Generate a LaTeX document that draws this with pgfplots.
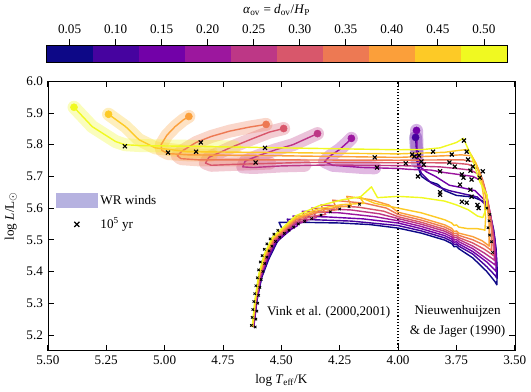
\documentclass[border=0pt]{standalone}
\usepackage{fontspec}
\setmainfont{Liberation Serif}
\usepackage{pgfplots}
\pgfplotsset{compat=1.18}

% plasma, 10 steps
\definecolor{c0}{RGB}{13,8,135}
\definecolor{c1}{RGB}{70,3,159}
\definecolor{c2}{RGB}{114,1,168}
\definecolor{c3}{RGB}{156,23,158}
\definecolor{c4}{RGB}{189,55,134}
\definecolor{c5}{RGB}{216,87,107}
\definecolor{c6}{RGB}{237,121,83}
\definecolor{c7}{RGB}{251,159,58}
\definecolor{c8}{RGB}{253,202,38}
\definecolor{c9}{RGB}{240,249,33}
\definecolor{wrcol}{RGB}{182,178,224}

\pgfplotsset{
  trk/.style={#1, line width=1pt, line join=round, mark=none, forget plot},
  wr/.style={#1, opacity=0.3, line width=9.2pt, line cap=round, line join=round, mark=none, forget plot},
  enddot/.style={#1, only marks, mark=*, mark size=2.5pt, forget plot},
  xm/.style={black, only marks, mark=x, mark size=2pt, line width=0.8pt, forget plot},
  xms/.style={black, only marks, mark=x, mark size=1.2pt, line width=0.6pt, forget plot},
}

\begin{document}
\begin{tikzpicture}[font=\fontsize{9.3}{11.2}\selectfont]
\begin{axis}[
  scale only axis, width=330.6pt, height=190.8pt,
  x dir=reverse,
  xmin=3.5, xmax=5.5, ymin=5.15, ymax=6.0,
  xtick={3.5,3.75,4,4.25,4.5,4.75,5,5.25,5.5},
  ytick={5.2,5.3,5.4,5.5,5.6,5.7,5.8,5.9,6.0},
  /pgf/number format/assume math mode=true,
  xticklabel style={/pgf/number format/.cd, fixed, fixed zerofill, precision=2},
  yticklabel style={/pgf/number format/.cd, fixed, fixed zerofill, precision=1},
  xlabel={log \textit{T}\textsubscript{eff}/K},
  ylabel={log \textit{L}/L$_\odot$},
  tick style={black, line width=0.5pt},
  legend style={at={(0.008,0.6)}, anchor=north west, draw=none, fill=none,
    row sep=4pt, cells={anchor=west}},
]
\addlegendimage{legend image code/.code={\fill[wrcol] (0pt,-5pt) rectangle (29pt,5pt);}}
\addlegendentry{WR winds}
\addlegendimage{legend image code/.code={\draw[black,line width=0.9pt] (12.7pt,-1.8pt)--(16.3pt,1.8pt) (12.7pt,1.8pt)--(16.3pt,-1.8pt);}}
\addlegendentry{10\textsuperscript{5} yr}

% boundary between the two cool-side wind prescriptions
\addplot[black, line width=0.8pt, dash pattern=on 0.8pt off 1.4pt, forget plot] coordinates {(4.0,5.15) (4.0,6.0)};

% ---- WR wind phases
\addplot[wr=c1] coordinates {(3.918,5.745)(3.922,5.79)(3.925,5.823)};
\addplot[wr=c2] coordinates {(3.918,5.77)(3.921,5.845)};
\addplot[wr=c3] coordinates {(4.10,5.727)(4.15,5.728)(4.28,5.735)(4.315,5.747)(4.29,5.765)(4.25,5.785)(4.22,5.805)(4.20,5.82)};
\addplot[wr=c4] coordinates {(4.40,5.735)(4.5,5.733)(4.62,5.728)(4.665,5.73)(4.655,5.748)(4.60,5.765)(4.52,5.785)(4.45,5.80)(4.39,5.82)(4.345,5.835)};
\addplot[wr=c5] coordinates {(4.55,5.742)(4.7,5.738)(4.80,5.735)(4.825,5.742)(4.81,5.76)(4.72,5.79)(4.62,5.82)(4.55,5.84)(4.49,5.851)};
\addplot[wr=c6] coordinates {(4.62,5.752)(4.85,5.752)(4.93,5.756)(4.945,5.765)(4.925,5.78)(4.865,5.807)(4.80,5.826)(4.72,5.843)(4.64,5.855)(4.565,5.864)};
\addplot[wr=c7] coordinates {(4.80,5.767)(4.9,5.768)(4.985,5.772)(5.012,5.782)(5.015,5.80)(4.99,5.83)(4.955,5.857)(4.92,5.878)(4.896,5.889)};
\addplot[wr=c8] coordinates {(4.80,5.777)(4.9,5.778)(4.98,5.785)(5.04,5.79)(5.11,5.816)(5.167,5.857)(5.24,5.896)};
\addplot[wr=c9] coordinates {(4.70,5.793)(4.9,5.795)(5.10,5.797)(5.17,5.80)(5.21,5.81)(5.31,5.857)(5.388,5.918)};

% ---- tracks, alpha_ov = 0.05 ... 0.50
\addplot[trk=c0] coordinates {
 (4.618,5.225)(4.604,5.31)(4.584,5.381)(4.555,5.437)(4.52,5.49)(4.49,5.525)(4.51,5.555)
 (4.40,5.555)(4.25,5.553)(4.12,5.548)(4.0,5.537)(3.90,5.521)(3.80,5.499)(3.77,5.488)(3.76,5.478)(3.75,5.48)(3.74,5.472)
 (3.68,5.443)(3.62,5.40)(3.585,5.368)(3.577,5.358)
 (3.575,5.40)(3.58,5.47)(3.59,5.53)(3.605,5.58)(3.63,5.62)(3.68,5.635)(3.75,5.64)(3.80,5.655)(3.83,5.675)
 (3.87,5.685)(3.90,5.70)(3.915,5.73)(3.92,5.77)(3.912,5.78)};
\addplot[trk=c1] coordinates {
 (4.619,5.225)(4.605,5.31)(4.585,5.382)(4.557,5.439)(4.522,5.492)(4.455,5.535)(4.475,5.565)
 (4.35,5.563)(4.2,5.559)(4.0,5.545)(3.90,5.528)(3.80,5.506)(3.77,5.495)(3.76,5.485)(3.75,5.487)(3.74,5.48)
 (3.68,5.455)(3.62,5.415)(3.585,5.388)(3.578,5.38)
 (3.578,5.43)(3.585,5.50)(3.60,5.56)(3.625,5.61)(3.66,5.635)(3.72,5.645)(3.78,5.655)(3.82,5.665)(3.86,5.68)
 (3.90,5.71)(3.918,5.745)(3.922,5.79)(3.925,5.823)};
\addplot[trk=c2] coordinates {
 (4.619,5.225)(4.606,5.31)(4.587,5.383)(4.559,5.441)(4.524,5.494)(4.47,5.528)(4.43,5.545)(4.45,5.575)
 (4.3,5.572)(4.15,5.566)(4.0,5.553)(3.90,5.535)(3.80,5.513)(3.77,5.502)(3.76,5.492)(3.75,5.494)(3.74,5.487)
 (3.68,5.463)(3.62,5.43)(3.588,5.407)(3.58,5.40)
 (3.58,5.45)(3.59,5.52)(3.605,5.58)(3.63,5.625)(3.67,5.655)(3.73,5.665)(3.78,5.672)(3.84,5.70)(3.88,5.715)
 (3.905,5.73)(3.918,5.77)(3.921,5.845)};
\addplot[trk=c3] coordinates {
 (4.620,5.225)(4.607,5.31)(4.588,5.384)(4.561,5.443)(4.526,5.496)(4.45,5.545)(4.39,5.56)(4.41,5.59)
 (4.25,5.585)(4.1,5.573)(4.0,5.56)(3.90,5.542)(3.80,5.52)(3.77,5.509)(3.76,5.499)(3.75,5.501)(3.74,5.494)
 (3.68,5.472)(3.63,5.445)(3.592,5.425)(3.583,5.42)
 (3.584,5.47)(3.595,5.54)(3.61,5.60)(3.625,5.65)(3.64,5.685)(3.68,5.70)(3.73,5.705)(3.80,5.712)(3.86,5.72)
 (3.95,5.722)(4.0,5.725)(4.15,5.728)(4.28,5.735)(4.315,5.747)(4.29,5.765)(4.25,5.785)(4.22,5.805)(4.20,5.82)};
\addplot[trk=c4] coordinates {
 (4.621,5.225)(4.608,5.31)(4.590,5.385)(4.563,5.445)(4.528,5.498)(4.44,5.553)(4.35,5.57)(4.37,5.60)
 (4.2,5.594)(4.08,5.582)(4.0,5.567)(3.90,5.549)(3.80,5.527)(3.77,5.516)(3.76,5.506)(3.75,5.508)(3.74,5.501)
 (3.68,5.48)(3.63,5.458)(3.595,5.44)(3.587,5.435)
 (3.588,5.49)(3.60,5.56)(3.615,5.62)(3.632,5.67)(3.65,5.705)(3.69,5.72)(3.75,5.725)(3.82,5.73)(3.90,5.732)
 (4.0,5.734)(4.3,5.736)(4.5,5.733)(4.62,5.728)(4.665,5.73)(4.655,5.748)(4.60,5.765)(4.52,5.785)(4.45,5.80)(4.39,5.82)(4.345,5.835)};
\addplot[trk=c5] coordinates {
 (4.622,5.225)(4.609,5.31)(4.591,5.386)(4.565,5.447)(4.530,5.50)(4.44,5.557)(4.37,5.574)(4.31,5.58)(4.33,5.61)
 (4.17,5.603)(4.06,5.59)(4.0,5.573)(3.90,5.555)(3.80,5.533)(3.77,5.522)(3.76,5.512)(3.75,5.514)(3.74,5.507)
 (3.68,5.49)(3.63,5.47)(3.60,5.455)(3.592,5.45)
 (3.593,5.51)(3.605,5.58)(3.62,5.64)(3.638,5.69)(3.66,5.725)(3.70,5.738)(3.76,5.742)(3.85,5.743)(4.0,5.743)
 (4.4,5.744)(4.7,5.738)(4.80,5.735)(4.825,5.742)(4.81,5.76)(4.72,5.79)(4.62,5.82)(4.55,5.84)(4.49,5.851)};
\addplot[trk=c6] coordinates {
 (4.623,5.225)(4.610,5.31)(4.593,5.387)(4.567,5.449)(4.532,5.502)(4.44,5.562)(4.35,5.585)(4.26,5.595)(4.28,5.625)
 (4.14,5.615)(4.05,5.60)(4.0,5.58)(3.90,5.562)(3.80,5.54)(3.77,5.529)(3.76,5.519)(3.75,5.521)(3.74,5.514)
 (3.68,5.50)(3.63,5.483)(3.607,5.47)(3.60,5.465)
 (3.60,5.53)(3.612,5.60)(3.628,5.66)(3.648,5.71)(3.67,5.745)(3.72,5.752)(3.80,5.752)(4.0,5.751)
 (4.5,5.752)(4.85,5.752)(4.93,5.756)(4.945,5.765)(4.925,5.78)(4.865,5.807)(4.80,5.826)(4.72,5.843)(4.64,5.855)(4.565,5.864)};
\addplot[trk=c7] coordinates {
 (4.623,5.225)(4.611,5.31)(4.594,5.388)(4.569,5.451)(4.534,5.504)(4.44,5.566)(4.34,5.592)(4.26,5.603)(4.20,5.607)(4.22,5.637)
 (4.12,5.627)(4.04,5.61)(4.0,5.587)(3.90,5.569)(3.80,5.547)(3.77,5.536)(3.76,5.526)(3.75,5.528)(3.74,5.521)
 (3.68,5.51)(3.64,5.497)(3.618,5.485)(3.61,5.48)
 (3.61,5.55)(3.62,5.62)(3.638,5.68)(3.66,5.73)(3.685,5.765)(3.73,5.768)(3.80,5.765)(4.0,5.76)
 (4.5,5.765)(4.9,5.768)(4.985,5.772)(5.012,5.782)(5.015,5.80)(4.99,5.83)(4.955,5.857)(4.92,5.878)(4.896,5.889)};
\addplot[trk=c8] coordinates {
 (4.624,5.225)(4.612,5.31)(4.596,5.389)(4.571,5.453)(4.536,5.506)(4.44,5.57)(4.34,5.598)(4.24,5.611)(4.145,5.615)(4.165,5.635)
 (4.10,5.615)(4.0,5.60)(3.90,5.585)(3.80,5.563)(3.77,5.553)(3.76,5.545)(3.75,5.547)(3.74,5.54)
 (3.70,5.535)(3.66,5.535)(3.635,5.532)(3.628,5.53)
 (3.625,5.57)(3.632,5.63)(3.645,5.69)(3.665,5.74)(3.70,5.785)(3.74,5.782)(3.80,5.776)(4.0,5.771)
 (4.5,5.775)(4.9,5.778)(4.98,5.785)(5.04,5.79)(5.11,5.816)(5.167,5.857)(5.24,5.896)};
\addplot[trk=c9] coordinates {
 (4.625,5.225)(4.613,5.31)(4.597,5.39)(4.573,5.455)(4.538,5.508)(4.44,5.575)(4.34,5.607)(4.24,5.626)(4.16,5.636)(4.114,5.667)(4.088,5.633)
 (4.0,5.637)(3.90,5.633)(3.80,5.622)(3.75,5.61)(3.70,5.595)(3.66,5.575)(3.637,5.57)
 (3.622,5.60)(3.618,5.64)(3.65,5.683)(3.684,5.76)(3.72,5.82)(3.75,5.807)(3.82,5.79)(3.89,5.785)(4.0,5.784)
 (4.5,5.79)(4.9,5.795)(5.10,5.797)(5.17,5.80)(5.21,5.81)(5.31,5.857)(5.388,5.918)};

% ---- end points
\addplot[enddot=c1] coordinates {(3.925,5.823)};
\addplot[enddot=c2] coordinates {(3.921,5.845)};
\addplot[enddot=c3] coordinates {(4.20,5.82)};
\addplot[enddot=c4] coordinates {(4.345,5.835)};
\addplot[enddot=c5] coordinates {(4.49,5.851)};
\addplot[enddot=c6] coordinates {(4.565,5.864)};
\addplot[enddot=c7] coordinates {(4.896,5.889)};
\addplot[enddot=c8] coordinates {(5.24,5.896)};
\addplot[enddot=c9] coordinates {(5.388,5.918)};

% ---- 1e5 yr markers
\addplot[xms] coordinates {
 (4.628,5.23)(4.625,5.255)(4.622,5.28)(4.618,5.305)(4.614,5.33)(4.609,5.355)(4.603,5.38)(4.597,5.405)
 (4.59,5.43)(4.582,5.45)(4.573,5.47)(4.562,5.487)(4.548,5.503)(4.532,5.518)(4.515,5.53)
 (4.612,5.225)(4.609,5.25)(4.605,5.275)(4.601,5.30)(4.597,5.325)(4.592,5.35)(4.586,5.375)(4.579,5.40)
 (4.571,5.425)(4.562,5.445)(4.552,5.465)(4.54,5.48)(4.525,5.495)(4.507,5.508)(4.487,5.52)(4.467,5.53)
 (4.447,5.54)(4.427,5.55)(4.40,5.558)(4.37,5.567)(4.33,5.578)(4.29,5.588)(4.25,5.597)(4.21,5.605)(4.165,5.612)
 (3.595,5.46)(3.60,5.494)(3.608,5.515)(3.615,5.538)(3.61,5.56)(3.607,5.58)(3.62,5.60)};
\addplot[xm] coordinates {
 (5.17,5.795)(4.985,5.775)(4.865,5.778)(4.845,5.807)(4.57,5.79)(4.61,5.744)
 (4.10,5.76)(4.09,5.728)(3.967,5.741)(3.94,5.769)(3.85,5.778)(3.91,5.766)(3.90,5.747)(3.89,5.737)
 (3.915,5.70)(3.82,5.716)(3.77,5.769)(3.78,5.744)(3.757,5.731)(3.718,5.813)(3.706,5.778)(3.70,5.753)
 (3.727,5.706)(3.69,5.718)(3.685,5.69)(3.82,5.65)(3.735,5.674)(3.69,5.658)(3.706,5.617)(3.727,5.62)
 (3.66,5.61)(3.655,5.60)(3.685,5.636)(3.65,5.696)(3.637,5.716)(3.68,5.731)(3.72,5.696)(3.82,5.642)(3.93,5.763)};

\node[anchor=east] at (axis cs:4.012,5.272) {Vink et al. (2000,2001)};
\node[align=center, font=\fontsize{9.3}{14.5}\selectfont] at (axis cs:3.745,5.243) {Nieuwenhuijzen\\\& de Jager (1990)};
\end{axis}

% colour bar for alpha_ov
\begin{axis}[
  at={(-0.9pt,204.3pt)}, anchor=south west,
  scale only axis, width=325.9pt, height=12.1pt,
  xmin=0.025, xmax=0.525, ymin=0, ymax=1,
  ytick=\empty,
  xtick={0.05,0.10,0.15,0.20,0.25,0.30,0.35,0.40,0.45,0.50},
  xtick pos=upper, xticklabel pos=upper, tick align=outside,
  /pgf/number format/assume math mode=true,
  xticklabel style={/pgf/number format/.cd, fixed, fixed zerofill, precision=2},
  xlabel={\textit{α}\textsubscript{ov} = \textit{d}\textsubscript{ov}/\textit{H}\textsubscript{P}},
  tick style={black, line width=0.5pt},
  axis on top,
]
\addplot[fill=c0, draw=none] coordinates {(0.025,0)(0.075,0)(0.075,1)(0.025,1)};
\addplot[fill=c1, draw=none] coordinates {(0.075,0)(0.125,0)(0.125,1)(0.075,1)};
\addplot[fill=c2, draw=none] coordinates {(0.125,0)(0.175,0)(0.175,1)(0.125,1)};
\addplot[fill=c3, draw=none] coordinates {(0.175,0)(0.225,0)(0.225,1)(0.175,1)};
\addplot[fill=c4, draw=none] coordinates {(0.225,0)(0.275,0)(0.275,1)(0.225,1)};
\addplot[fill=c5, draw=none] coordinates {(0.275,0)(0.325,0)(0.325,1)(0.275,1)};
\addplot[fill=c6, draw=none] coordinates {(0.325,0)(0.375,0)(0.375,1)(0.325,1)};
\addplot[fill=c7, draw=none] coordinates {(0.375,0)(0.425,0)(0.425,1)(0.375,1)};
\addplot[fill=c8, draw=none] coordinates {(0.425,0)(0.475,0)(0.475,1)(0.425,1)};
\addplot[fill=c9, draw=none] coordinates {(0.475,0)(0.525,0)(0.525,1)(0.475,1)};
\end{axis}
\end{tikzpicture}
\end{document}
